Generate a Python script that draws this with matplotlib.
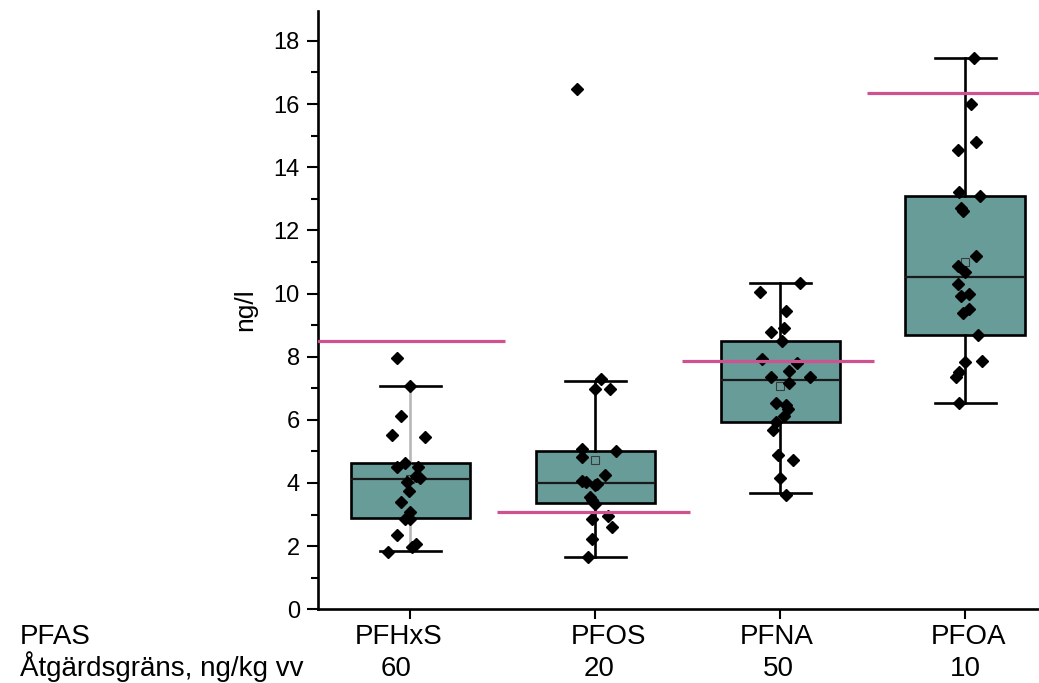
import matplotlib.pyplot as plt
from matplotlib.ticker import MultipleLocator
from matplotlib.transforms import blended_transform_factory
import numpy as np

plt.rcParams['font.family'] = ['Liberation Sans', 'DejaVu Sans']

substances = ['PFHxS', 'PFOS', 'PFNA', 'PFOA']
limits_ngkg = ['60', '20', '50', '10']

# measured concentrations, ng/l
pfhxs = [7.96, 7.08, 6.12, 5.53, 5.46, 4.62, 4.51, 4.51, 4.21, 4.17,
         4.03, 3.74, 3.39, 3.08, 2.87, 2.87, 2.34, 2.06, 1.97, 1.82]
pfos = [16.48, 7.29, 6.99, 6.96, 5.09, 5.02, 4.81, 4.24, 4.07, 4.03,
        3.93, 3.96, 3.56, 3.45, 3.33, 2.87, 2.95, 2.61, 2.24, 1.64]
pfna = [10.34, 10.05, 9.45, 8.92, 8.77, 8.49, 7.91, 7.80, 7.55, 7.34, 7.34,
        7.15, 6.54, 6.46, 6.33, 6.12, 5.93, 5.69, 4.90, 4.72, 4.17, 3.61]
pfoa = [17.45, 15.99, 14.81, 14.54, 13.22, 13.10, 12.72, 12.62, 11.19, 10.88, 10.69,
        10.30, 10.00, 9.92, 9.51, 9.37, 8.68, 7.84, 7.86, 7.52, 7.34, 6.52]

# horizontal jitter of the dots
jit_pfhxs = [-0.07, 0.00, -0.05, -0.10, 0.08, -0.03, -0.07, 0.04, 0.03, 0.05,
             -0.02, -0.01, -0.05, 0.00, -0.03, 0.00, -0.07, 0.03, 0.01, -0.12]
jit_pfos = [-0.10, 0.03, 0.00, 0.08, -0.07, 0.11, -0.07, 0.05, -0.07, -0.05,
            0.00, 0.01, -0.03, -0.02, 0.00, -0.02, 0.07, 0.09, -0.02, -0.04]
jit_pfna = [0.11, -0.11, 0.03, 0.02, -0.05, 0.01, -0.10, 0.09, 0.05, -0.05, 0.16,
            0.05, -0.02, 0.03, 0.04, 0.02, -0.02, -0.04, -0.01, 0.07, 0.00, 0.03]
jit_pfoa = [0.05, 0.03, 0.06, -0.04, -0.03, 0.08, -0.02, -0.01, 0.06, -0.04, 0.00,
            -0.04, 0.02, -0.02, 0.02, -0.01, 0.07, 0.00, 0.09, -0.03, -0.05, -0.03]

# box statistics
whislo = [1.83, 1.64, 3.67, 6.52]
q1 = [2.90, 3.35, 5.93, 8.70]
med = [4.11, 3.99, 7.26, 10.51]
q3 = [4.64, 5.02, 8.49, 13.10]
whishi = [7.08, 7.23, 10.34, 17.45]
means = [4.12, 4.72, 7.07, 11.0]

# action limits converted to ng/l
limit_ngl = [8.5, 3.09, 7.85, 16.34]

values = [pfhxs, pfos, pfna, pfoa]
jitter = [jit_pfhxs, jit_pfos, jit_pfna, jit_pfoa]
pos = np.arange(1, 5)

fig = plt.figure(figsize=(10.39, 6.83), dpi=100)
ax = fig.add_axes([0.306, 0.108, 0.694, 0.876])

stats = []
for i in range(4):
    stats.append({'whislo': whislo[i], 'q1': q1[i], 'med': med[i],
                  'q3': q3[i], 'whishi': whishi[i], 'mean': means[i],
                  'fliers': []})

teal = '#689c99'
bp = ax.bxp(stats, positions=pos, widths=0.645, patch_artist=True,
            showmeans=True, showfliers=False,
            boxprops=dict(facecolor=teal, edgecolor='black', linewidth=1.9),
            medianprops=dict(color='#1a1a1a', linewidth=1.6),
            whiskerprops=dict(color='black', linewidth=1.9),
            capprops=dict(color='black', linewidth=1.9),
            meanprops=dict(marker='s', markersize=6, markerfacecolor='none',
                           markeredgecolor='#3a3a3a', markeredgewidth=0.8),
            capwidths=0.33)
# first whisker is drawn light grey
bp['whiskers'][0].set_color('#b8b8b8')
bp['whiskers'][1].set_color('#b8b8b8')

for i in range(4):
    ax.plot(pos[i] + np.array(jitter[i]), values[i], linestyle='none',
            marker='D', markersize=6, color='black', zorder=4)

for i in range(4):
    ax.plot([pos[i] - 0.53, pos[i] + 0.51], [limit_ngl[i], limit_ngl[i]],
            color='#cf5290', linewidth=2.3, zorder=5, solid_capstyle='butt')

ax.set_xlim(0.5, 4.4)
ax.set_ylim(0, 18.95)
ax.yaxis.set_major_locator(MultipleLocator(2))
ax.yaxis.set_minor_locator(MultipleLocator(1))
ax.set_xticks(pos)
ax.set_xticklabels([])

for s in ['top', 'right']:
    ax.spines[s].set_visible(False)
for s in ['left', 'bottom']:
    ax.spines[s].set_linewidth(1.9)

ax.tick_params(axis='y', which='major', direction='out', length=8, width=1.5,
               pad=5, labelsize=17)
ax.tick_params(axis='y', which='minor', direction='out', length=5, width=1.5)
ax.tick_params(axis='x', which='major', direction='out', length=7, width=1.5)
ax.set_ylabel('ng/l', fontsize=19, labelpad=12)

# table rows below the axis
trans = blended_transform_factory(ax.transData, fig.transFigure)
name_x = [0.935, 2.07, 2.98, 4.02]
limit_x = [0.92, 2.02, 2.99, 4.0]
fig.text(0.019, 0.057, 'PFAS', fontsize=20, va='baseline', ha='left')
fig.text(0.019, 0.010, 'Åtgärdsgräns, ng/kg vv', fontsize=20, va='baseline', ha='left')
for i in range(4):
    ax.text(name_x[i], 0.057, substances[i], transform=trans, fontsize=20,
            ha='center', va='baseline', clip_on=False)
    ax.text(limit_x[i], 0.010, limits_ngkg[i], transform=trans, fontsize=20,
            ha='center', va='baseline', clip_on=False)

fig.savefig('out.png', dpi=100)
